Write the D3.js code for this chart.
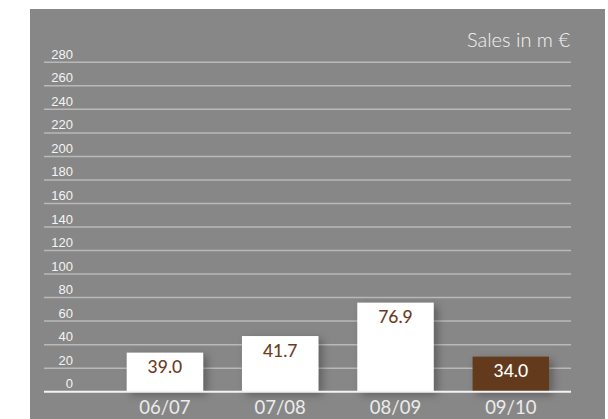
<!DOCTYPE html>
<html>
<head>
<meta charset="utf-8">
<script src="https://cdn.jsdelivr.net/npm/d3@7"></script>
<style>
  html, body { margin: 0; padding: 0; background: #ffffff; }
  svg { display: block; }
  text { font-family: "Lato", "Noto Sans", sans-serif; }
</style>
</head>
<body>
<svg id="chart" width="608" height="419"></svg>
<script>
// ---- data ----
const categories = ["06/07", "07/08", "08/09", "09/10"];
const valueLabels = [39.0, 41.7, 76.9, 34.0];       // printed values
const barHeights = [33.2, 47.3, 75.7, 29.8];        // bar heights as read on the axis
const highlight = [false, false, false, true];
const yTicks = [0, 20, 40, 60, 80, 100, 120, 140, 160, 180, 200, 220, 240, 260, 280];
const title = "Sales in m €";

// ---- layout ----
const W = 608, H = 419;
const svg = d3.select("#chart");
const bg = "#878787";

const defs = svg.append("defs");
const f = defs.append("filter").attr("id", "shadow")
  .attr("x", "-30%").attr("y", "-30%").attr("width", "170%").attr("height", "170%");
f.append("feDropShadow").attr("dx", 4).attr("dy", 3).attr("stdDeviation", 4)
  .attr("flood-color", "#000").attr("flood-opacity", 0.3);

svg.append("rect").attr("x", 30).attr("y", 9).attr("width", 575).attr("height", H - 9).attr("fill", bg);

const gridX0 = 44, gridX1 = 571;
const y = d3.scaleLinear().domain([0, 280]).range([391.7, 62.3]);
const x = d3.scaleBand().domain(categories).range([126.7, 549]).paddingInner(0.337).paddingOuter(0);

// grid lines
svg.append("g").selectAll("line").data(yTicks.filter(d => d !== 0)).join("line")
  .attr("x1", gridX0).attr("x2", gridX1)
  .attr("y1", d => y(d)).attr("y2", d => y(d))
  .attr("stroke", "#b9b9b9").attr("stroke-width", 1.5);

// y tick labels
svg.append("g").selectAll("text").data(yTicks).join("text")
  .attr("x", 73).attr("y", d => y(d) - 3.5)
  .attr("text-anchor", "end")
  .style("font-family", "'Liberation Sans', Arial, sans-serif")
  .attr("font-size", 13)
  .attr("fill", "#f4f4f4")
  .text(d => d);

// bars
const bars = svg.append("g").selectAll("g").data(categories).join("g");
bars.append("rect")
  .attr("x", d => x(d))
  .attr("width", x.bandwidth())
  .attr("y", (d, i) => y(barHeights[i]))
  .attr("height", (d, i) => y(0) - y(barHeights[i]))
  .attr("fill", (d, i) => highlight[i] ? "#633a1d" : "#ffffff")
  .attr("filter", "url(#shadow)");

bars.append("text")
  .attr("x", d => x(d) + x.bandwidth() / 2)
  .attr("y", (d, i) => y(barHeights[i]) + 20.5)
  .attr("text-anchor", "middle")
  .attr("font-size", 17.5)
  .attr("font-weight", 500)
  .attr("fill", (d, i) => highlight[i] ? "#ffffff" : "#6b3d1f")
  .text((d, i) => valueLabels[i].toFixed(1));

// baseline
svg.append("line").attr("x1", gridX0).attr("x2", gridX1)
  .attr("y1", y(0)).attr("y2", y(0))
  .attr("stroke", "#f4f4f4").attr("stroke-width", 2);

// x labels
svg.append("g").selectAll("text").data(categories).join("text")
  .attr("x", d => x(d) + x.bandwidth() / 2)
  .attr("y", 414)
  .attr("text-anchor", "middle")
  .attr("font-size", 18.5)
  .attr("fill", "#ececec")
  .text(d => d);

// title
svg.append("text").attr("x", 570).attr("y", 47)
  .attr("text-anchor", "end").attr("font-size", 20).attr("font-weight", 300)
  .attr("fill", "#f4f4f4").text(title);
</script>
</body>
</html>
